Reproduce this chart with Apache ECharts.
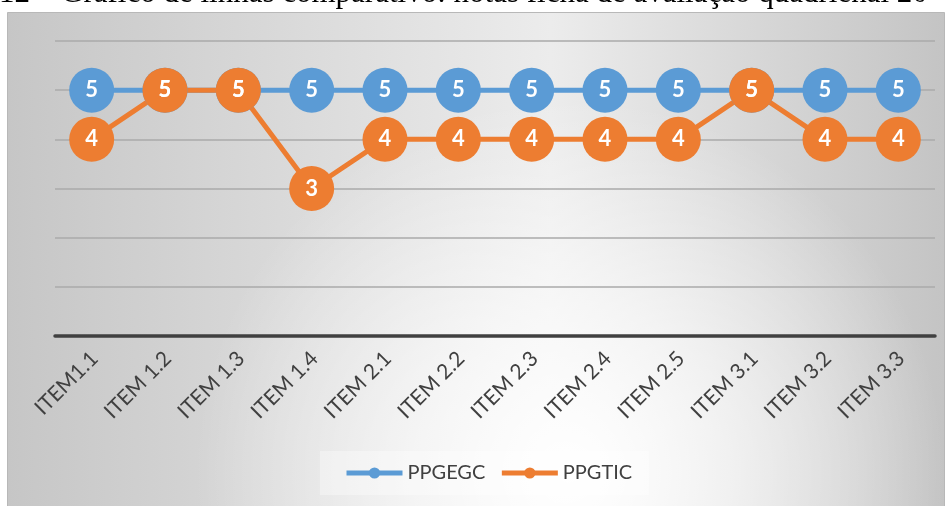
<!DOCTYPE html>
<html>
<head>
<meta charset="utf-8">
<script src="https://cdn.jsdelivr.net/npm/echarts@6/dist/echarts.min.js"></script>
<style>
  html, body { margin: 0; padding: 0; background: #ffffff; }
  #chart { width: 952px; height: 506px; }
</style>
</head>
<body>
<div id="chart"></div>
<script>
// Notas por item da ficha de avaliação
const categories = ['ITEM1.1', 'ITEM 1.2', 'ITEM 1.3', 'ITEM 1.4', 'ITEM 2.1', 'ITEM 2.2',
                    'ITEM 2.3', 'ITEM 2.4', 'ITEM 2.5', 'ITEM 3.1', 'ITEM 3.2', 'ITEM 3.3'];
const ppgegc = [5, 5, 5, 5, 5, 5, 5, 5, 5, 5, 5, 5];
const ppgtic = [4, 5, 5, 3, 4, 4, 4, 4, 4, 5, 4, 4];
const seriesNames = ['PPGEGC', 'PPGTIC'];
const captionText = '12 – Gráfico de linhas comparativo: notas ficha de avaliação quadrienal 20';

const chart = echarts.init(document.getElementById('chart'), null, { renderer: 'canvas' });

const uiFont = 'Lato, "Open Sans", sans-serif';

function lineSeries(name, values, color) {
  return {
    name: name,
    type: 'line',
    data: values,
    symbol: 'circle',
    symbolSize: 45,
    lineStyle: { color: color, width: 5 },
    itemStyle: { color: color },
    label: {
      show: true,
      position: 'inside',
      color: '#ffffff',
      fontFamily: uiFont,
      fontWeight: 'bold',
      fontSize: 22
    },
    emphasis: { disabled: true },
    animation: false
  };
}

const frame = { x: 7.5, y: 12.5, width: 937, height: 500 };

chart.setOption({
  animation: false,
  graphic: [
    {
      // chart area: grey edges lightening toward the middle
      type: 'rect',
      z: -20,
      shape: frame,
      style: {
        fill: new echarts.graphic.LinearGradient(0, 0, 1, 0, [
          { offset: 0, color: '#c6c6c6' },
          { offset: 0.58, color: '#ececec' },
          { offset: 1, color: '#c4c4c4' }
        ]),
        stroke: '#b8b8b8',
        lineWidth: 1
      },
      silent: true
    },
    {
      // soft white glow near the lower centre
      type: 'rect',
      z: -19,
      shape: frame,
      style: {
        fill: new echarts.graphic.RadialGradient(0.6, 0.92, 0.75, [
          { offset: 0, color: 'rgba(255,255,255,1)' },
          { offset: 0.45, color: 'rgba(255,255,255,0.6)' },
          { offset: 1, color: 'rgba(255,255,255,0)' }
        ])
      },
      silent: true
    },
    {
      type: 'text',
      x: -1,
      y: 9,
      style: {
        text: captionText,
        fontFamily: '"Liberation Serif", serif',
        fontSize: 31,
        fill: '#000000',
        verticalAlign: 'bottom'
      },
      silent: true
    }
  ],
  grid: { left: 55, right: 17, top: 41, bottom: 170, containLabel: false },
  legend: {
    data: seriesNames,
    top: 451,
    left: 320,
    itemWidth: 56,
    itemHeight: 14,
    itemGap: 14,
    padding: [12, 17, 12, 24],
    backgroundColor: 'rgba(255,255,255,0.35)',
    lineStyle: { width: 5 },
    textStyle: { fontFamily: uiFont, fontSize: 20, color: '#404040' }
  },
  xAxis: {
    type: 'category',
    data: categories,
    boundaryGap: true,
    axisLine: { lineStyle: { color: '#404040', width: 3.5 } },
    axisTick: { show: false },
    axisLabel: {
      rotate: 45,
      interval: 0,
      margin: 22,
      padding: [0, -4, 0, 0],
      fontFamily: uiFont,
      fontSize: 21,
      color: '#404040'
    }
  },
  yAxis: {
    type: 'value',
    min: 0,
    max: 6,
    interval: 1,
    axisLine: { show: false },
    axisTick: { show: false },
    axisLabel: { show: false },
    splitLine: { lineStyle: { color: '#aaaaaa', width: 1.5 } }
  },
  series: [
    lineSeries(seriesNames[0], ppgegc, '#5B9BD5'),
    lineSeries(seriesNames[1], ppgtic, '#ED7D31')
  ]
});
</script>
</body>
</html>
